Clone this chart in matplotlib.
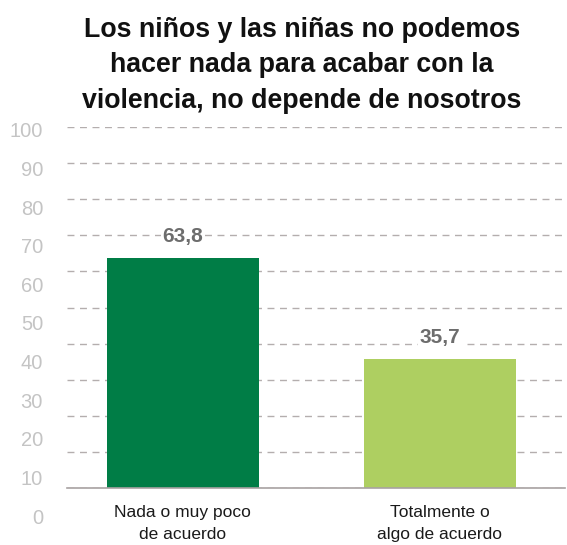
import matplotlib
matplotlib.use("Agg")
import matplotlib.pyplot as plt
from matplotlib import font_manager

categories = ["Nada o muy poco\nde acuerdo", "Totalmente o\nalgo de acuerdo"]
values = [63.8, 35.7]
value_labels = ["63,8", "35,7"]
colors = ["#007d46", "#aecf61"]
yticks = [0, 10, 20, 30, 40, 50, 60, 70, 80, 90, 100]
title = "Los niños y las niñas no podemos\nhacer nada para acabar con la\nviolencia, no depende de nosotros"

names = {f.name for f in font_manager.fontManager.ttflist}
narrow = "Liberation Sans Narrow" if "Liberation Sans Narrow" in names else "Liberation Sans"

W, H = 567, 545
fig = plt.figure(figsize=(W / 100, H / 100), dpi=100)

# main axes: baseline y=488px, 100 at y=127px; x from 67 to 565
ax = fig.add_axes([67 / W, (H - 488) / H, (565 - 67) / W, (488 - 127) / H])
x = range(len(values))
ax.bar(x, values, width=0.59, color=colors, zorder=3)
ax.set_xlim(-0.45, 1.486)
ax.set_ylim(0, 100)
ax.set_yticks(yticks)
ax.yaxis.grid(True, linestyle=(0, (5, 4)), color="#b4aeae", linewidth=1, zorder=0)
ax.tick_params(axis="y", length=0, labelleft=False)
ax.tick_params(axis="x", length=0, pad=12.5)
ax.set_xticks(list(x))
ax.set_xticklabels(categories, fontsize=12.5, family="Liberation Sans", color="#1a1a1a", linespacing=1.55)
for s in ["top", "right", "left"]:
    ax.spines[s].set_visible(False)
ax.spines["bottom"].set_color("#a8a2a2")
ax.spines["bottom"].set_linewidth(1.2)
ax.spines["bottom"].set_zorder(4)

for xi, v, lab in zip(x, values, value_labels):
    ax.annotate(lab, (xi, v), xytext=(0, 15.5), textcoords="offset points", ha="center", va="center",
                fontsize=15, fontweight="bold", color="#6d6d6d", family=[narrow, "Liberation Sans"],
                zorder=5, bbox=dict(facecolor="white", edgecolor="none", pad=1))

# tick label axes (labels in the original are offset from the gridlines)
lax = fig.add_axes([0, (H - 516) / H, 43 / W, (516 - 130) / H])
lax.set_ylim(0, 100)
lax.set_yticks(yticks)
lax.yaxis.tick_right()
lax.set_yticklabels([str(t) for t in yticks], fontsize=14.5, color="#c4c4c4", family="Liberation Sans")
lax.tick_params(axis="y", length=0, pad=0, labelright=True, labelleft=False)
for lbl in lax.get_yticklabels():
    lbl.set_horizontalalignment("right")
lax.patch.set_visible(False)
for s in lax.spines.values():
    s.set_visible(False)
lax.set_xticks([])

fig.text(302 / W, 1 - 65.5 / H, title, ha="center", va="center", fontsize=19.3, fontweight="bold",
         family="Liberation Sans", color="#111111", linespacing=1.47)

fig.savefig("out.png", dpi=100)
